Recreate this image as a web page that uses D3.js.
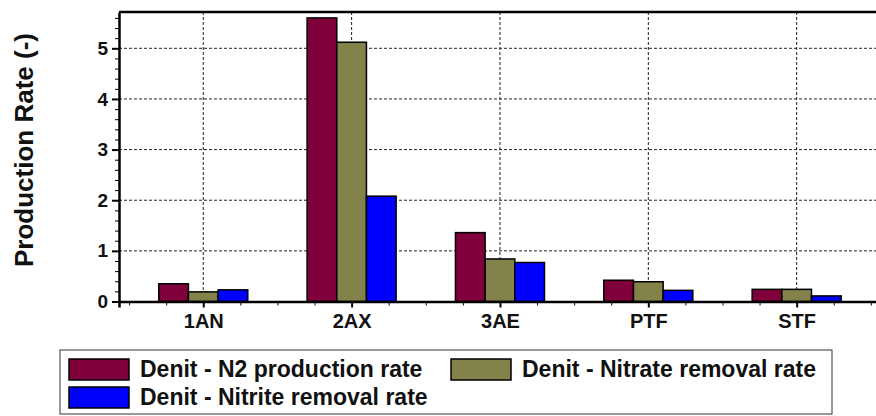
<!DOCTYPE html>
<html>
<head>
<meta charset="utf-8">
<script src="https://cdn.jsdelivr.net/npm/d3@7"></script>
<style>
  body { margin: 0; background: #fff; }
  svg text { font-family: "Liberation Sans", Arial, sans-serif; font-weight: bold; }
</style>
</head>
<body>
<div id="chart"></div>
<script>
var w = 876;
var h = 416;

// data
var categories = ["1AN", "2AX", "3AE", "PTF", "STF"];
var seriesNames = ["Denit - N2 production rate", "Denit - Nitrate removal rate", "Denit - Nitrite removal rate"];
var n2Rate = [0.35, 5.60, 1.36, 0.42, 0.24];
var nitrateRate = [0.19, 5.12, 0.84, 0.39, 0.24];
var nitriteRate = [0.23, 2.08, 0.77, 0.22, 0.11];
var yTicks = [0, 1, 2, 3, 4, 5];
var colors = ["#80003c", "#82824a", "#0000ff"];

var series = [n2Rate, nitrateRate, nitriteRate];

var padLeft = 119, plotTop = 12, plotBottom = 301.5;

var svg = d3.select("#chart").append("svg")
    .attr("width", w)
    .attr("height", h);

// x is continuous: category i sits at i+1
var xScale = d3.scaleLinear()
    .domain([0.432, 5.6])
    .range([padLeft, padLeft + (5.6 - 0.432) * 148.35]);

var yScale = d3.scaleLinear()
    .domain([0, 5.717])
    .range([plotBottom, plotTop]);

var barW = 0.2; // in x units

// grid
svg.append("g")
  .selectAll("line")
  .data(yTicks.filter(function(d) { return d > 0; }))
  .enter().append("line")
    .attr("x1", padLeft).attr("x2", w)
    .attr("y1", function(d) { return yScale(d); })
    .attr("y2", function(d) { return yScale(d); })
    .attr("stroke", "#222")
    .attr("stroke-width", 1)
    .attr("stroke-dasharray", "3,2");

svg.append("g")
  .selectAll("line")
  .data(categories)
  .enter().append("line")
    .attr("x1", function(d, i) { return xScale(i + 1); })
    .attr("x2", function(d, i) { return xScale(i + 1); })
    .attr("y1", plotTop).attr("y2", plotBottom)
    .attr("stroke", "#222")
    .attr("stroke-width", 1)
    .attr("stroke-dasharray", "3,2");

// bars
series.forEach(function(vals, s) {
  svg.append("g")
    .selectAll("rect")
    .data(vals)
    .enter().append("rect")
      .attr("x", function(d, i) { return xScale(i + 1 - 1.5 * barW + s * barW); })
      .attr("y", function(d) { return yScale(d); })
      .attr("width", xScale(barW) - xScale(0))
      .attr("height", function(d) { return yScale(0) - yScale(d); })
      .attr("fill", colors[s])
      .attr("stroke", "#000")
      .attr("stroke-width", 1.5);
});

// x axis: major at categories, minor every 0.25
var minorX = d3.range(0.5, 5.6, 0.25).filter(function(d) { return d % 1 !== 0; });
var xAxis = d3.axisBottom(xScale)
    .tickValues([1, 2, 3, 4, 5])
    .tickSize(6)
    .tickPadding(6)
    .tickFormat(function(d) { return categories[d - 1]; });

var xMinor = d3.axisBottom(xScale)
    .tickValues(minorX)
    .tickSize(4)
    .tickFormat("");

svg.append("g")
    .attr("transform", "translate(0," + plotBottom + ")")
    .call(xMinor)
    .call(function(g) { g.select(".domain").remove(); });

var gx = svg.append("g")
    .attr("transform", "translate(0," + plotBottom + ")")
    .call(xAxis);
gx.select(".domain").attr("stroke-width", 2.5);
gx.selectAll(".tick line").attr("stroke-width", 2);
gx.selectAll("text")
    .attr("font-size", "20px")
    .attr("fill", "#111");

// y axis
var yAxis = d3.axisLeft(yScale)
    .tickValues(yTicks)
    .tickSize(7)
    .tickPadding(4)
    .tickSizeOuter(0)
    .tickFormat(d3.format("d"));

var yMinor = d3.axisLeft(yScale)
    .tickValues(d3.range(0.2, 5.7, 0.2).filter(function(d) { return Math.abs(d - Math.round(d)) > 0.01; }))
    .tickSize(4)
    .tickFormat("");

svg.append("g")
    .attr("transform", "translate(" + padLeft + ",0)")
    .call(yMinor)
    .call(function(g) { g.select(".domain").remove(); });

var gy = svg.append("g")
    .attr("transform", "translate(" + padLeft + ",0)")
    .call(yAxis);
gy.select(".domain").attr("stroke-width", 2.5);
gy.selectAll(".tick line").attr("stroke-width", 2);
gy.selectAll("text")
    .attr("font-size", "19px")
    .attr("fill", "#111");

// top frame line
svg.append("line")
    .attr("x1", padLeft).attr("x2", w)
    .attr("y1", plotTop).attr("y2", plotTop)
    .attr("stroke", "#000")
    .attr("stroke-width", 2.5);

// y label
svg.append("text")
    .text("Production Rate (-)")
    .attr("transform", "translate(33," + 150 + ") rotate(-90)")
    .attr("text-anchor", "middle")
    .attr("font-size", "26px")
    .attr("fill", "#111");

// legend
var legend = svg.append("g");
legend.append("rect")
    .attr("x", 60).attr("y", 350)
    .attr("width", 772).attr("height", 64)
    .attr("fill", "#fff")
    .attr("stroke", "#333")
    .attr("stroke-width", 1);

var legendPos = [[69, 359], [451, 359], [69, 387]];
seriesNames.forEach(function(name, s) {
  legend.append("rect")
      .attr("x", legendPos[s][0]).attr("y", legendPos[s][1])
      .attr("width", 60).attr("height", 21)
      .attr("fill", colors[s])
      .attr("stroke", "#000")
      .attr("stroke-width", 1.5);
  legend.append("text")
      .text(name)
      .attr("x", legendPos[s][0] + 71)
      .attr("y", legendPos[s][1] + 18)
      .attr("font-size", "23px")
      .attr("fill", "#111");
});
</script>
</body>
</html>
